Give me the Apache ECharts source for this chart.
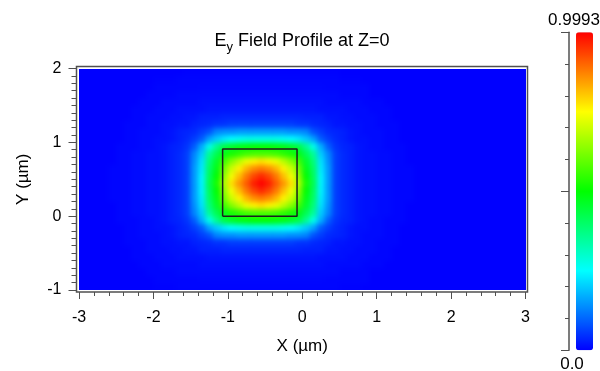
<!DOCTYPE html>
<html>
<head>
<meta charset="utf-8">
<script src="https://cdn.jsdelivr.net/npm/echarts@6/dist/echarts.min.js"></script>
<style>
html,body{margin:0;padding:0;background:#ffffff;}
#wrap{position:relative;width:600px;height:371px;}
#clip{position:absolute;left:79px;top:68.5px;width:446.5px;height:221.5px;overflow:hidden;background:#0000ff;}
#heat{position:absolute;left:0;top:0;width:446.5px;height:221.5px;filter:blur(2.5px);}
#c{position:absolute;left:0;top:0;width:600px;height:371px;}
</style>
</head>
<body>
<div id="wrap">
  <div id="clip"><div id="heat"></div></div>
  <div id="c"></div>
</div>
<script>
// ---- data ----
const xCats = [-2.95,-2.85,-2.75,-2.65,-2.55,-2.45,-2.35,-2.25,-2.15,-2.05,-1.95,-1.85,-1.75,-1.65,-1.55,-1.45,-1.35,-1.25,-1.15,-1.05,-0.95,-0.85,-0.75,-0.65,-0.55,-0.45,-0.35,-0.25,-0.15,-0.05,0.05,0.15,0.25,0.35,0.45,0.55,0.65,0.75,0.85,0.95,1.05,1.15,1.25,1.35,1.45,1.55,1.65,1.75,1.85,1.95,2.05,2.15,2.25,2.35,2.45,2.55,2.65,2.75,2.85,2.95];
const yCats = [-0.95,-0.85,-0.75,-0.65,-0.55,-0.45,-0.35,-0.25,-0.15,-0.05,0.05,0.15,0.25,0.35,0.45,0.55,0.65,0.75,0.85,0.95,1.05,1.15,1.25,1.35,1.45,1.55,1.65,1.75,1.85,1.95];
// |Ey| x100, rows from top (y = 1.95) to bottom (y = -0.95), columns x = -2.95 .. 2.95
const fieldRows = [
"0 0 0 0 0  0 0 0 0 0  0 0 0 0  0.2 0.2 0.2 0.2 0.2  0.2 0.2 0.2 0.2 0.2  0.2 0.2 0.2 0.2 0.2  0.2 0.2 0.2 0.2 0.2  0.2  0 0 0 0 0  0 0 0 0 0  0 0 0 0 0  0 0 0 0 0  0 0 0 0 0",
"0 0 0 0 0  0 0 0 0 0  0.2 0.2 0.2  0.5 0.5 0.5 0.5 0.5  0.5 0.5 0.5 0.5 0.5  0.5 0.5 0.5 0.5 0.5  0.5 0.5 0.5 0.5 0.5  0.5 0.5  0.2 0.2 0.2  0 0 0 0 0  0 0 0 0 0  0 0 0 0 0  0 0 0 0 0  0 0",
"0 0 0 0 0  0 0 0 0 0  0.5 0.5 0.5 0.5 0.5 0.5  0.7 0.7 0.7 0.7 0.7  0.7 0.7 0.7 0.7 0.7  0.7 0.7 0.7 0.7 0.7  0.7 0.7  0.5 0.5 0.5 0.5 0.5 0.5  0 0 0 0 0  0 0 0 0 0  0 0 0 0 0  0 0 0 0 0  0",
"0 0 0 0 0  0 0 0 0  0.5 0.5 0.5 0.5  1 1 1 1 1  1 1 1 1 1  1 1 1 1 1  1 1 1 1 1  1 1  0.5 0.5 0.5 0.5  0 0 0 0 0  0 0 0 0 0  0 0 0 0 0  0 0 0 0 0  0",
"0 0 0 0 0  0 0 0  0.5 0.5 0.5  1 1 1 1 1  1.5 1.5 1.5 1.5 1.5  1.5 1.5 1.5 1.5 1.5  1.5 1.5 1.5 1.5 1.5  1.5 1.5  1 1 1 1 1  0.5 0.5 0.5  0 0 0 0 0  0 0 0 0 0  0 0 0 0 0  0 0 0 0",
"0 0 0 0 0  0 0  0.5 0.5 0.5  1 1 1  1.5 1.5 1.5 1.5  2 2 2 2 2  2 2 2 2 2  2 2 2 2 2  1.5 1.5 1.5 1.5  1 1 1  0.5 0.5 0.5  0 0 0 0 0  0 0 0 0 0  0 0 0 0 0  0 0 0",
"0 0 0 0 0  0 0  0.5 0.5  1 1 1  1.5 1.5  2 2  3 3 3  3.5 3.5 3.5 3.5 3.5  3.5 3.5 3.5 3.5 3.5  3.5  3 3 3  2 2  1.5 1.5  1 1 1  0.5 0.5  0 0 0 0 0  0 0 0 0 0  0 0 0 0 0  0 0 0",
"0 0 0 0 0 0  0.5 0.5 0.5  1 1  1.5 1.5  2 2  3 3.5 4  5 5  6 6 6 6 6  6 6 6 6  5 5  4 3.5 3  2 2  1.5 1.5  1 1  0.5 0.5 0.5  0 0 0 0 0  0 0 0 0 0  0 0 0 0 0  0 0",
"0 0 0 0 0 0  0.5 0.5  1 1 1  1.5 2 3 3.5 4 6 8  13 14 14 15 15 15  15  15 15 15 14 14 13  8 6 4 3.5 3 2 1.5  1 1 1  0.5 0.5  0 0 0 0 0  0 0 0 0 0  0 0 0 0 0  0 0",
"0 0 0 0 0 0  0.5 0.5  1 1  1.5 1.5  2 3 4 6 9  16 20 23 25 26 27 27  27  27 27 26 25 23 20 16  9 6 4 3 2  1.5 1.5  1 1  0.5 0.5  0 0 0 0 0  0 0 0 0 0  0 0 0 0 0  0 0",
"0 0 0 0 0  0.5 0.5 0.5  1 1  1.5 2 3 3.5 5 9  17 27 36 43 46 48 49 50  50  50 49 48 46 43 36 27 17  9 5 3.5 3 2 1.5  1 1  0.5 0.5 0.5  0 0 0 0 0  0 0 0 0 0  0 0 0 0 0  0",
"0 0 0 0 0  0.5 0.5  1 1  1.5 1.5  2 3 4 6 13  20 35 42 48 52 54 56 57  57  57 56 54 52 48 42 35 20  13 6 4 3 2  1.5 1.5  1 1  0.5 0.5  0 0 0 0 0  0 0 0 0 0  0 0 0 0 0  0",
"0 0 0 0 0  0.5 0.5  1 1  1.5 1.5  2 3 4 6 14  22 38 46 56 63 68 73 76  78  76 73 68 63 56 46 38 22  14 6 4 3 2  1.5 1.5  1 1  0.5 0.5  0 0 0 0 0  0 0 0 0 0  0 0 0 0 0  0",
"0 0 0 0  0.5 0.5 0.5  1 1  1.5 1.5  2 3 4 6 15  23 40 48 61 70 76 82 86  88  86 82 76 70 61 48 40 23  15 6 4 3 2  1.5 1.5  1 1  0.5 0.5 0.5  0 0 0 0 0  0 0 0 0 0  0 0 0 0 0",
"0 0 0 0  0.5 0.5 0.5  1 1  1.5 1.5  2 3 4 6 15  24 41 50 64 74 81 88 93  96  93 88 81 74 64 50 41 24  15 6 4 3 2  1.5 1.5  1 1  0.5 0.5 0.5  0 0 0 0 0  0 0 0 0 0  0 0 0 0 0",
"0 0 0 0  0.5 0.5 0.5  1 1  1.5 1.5  2 3 4 6 15  24 42 52 67 78 85 91 97  99.93  97 91 85 78 67 52 42 24  15 6 4 3 2  1.5 1.5  1 1  0.5 0.5 0.5  0 0 0 0 0  0 0 0 0 0  0 0 0 0 0",
"0 0 0 0  0.5 0.5 0.5  1 1  1.5 1.5  2 3 4 6 15  24 41 50 64 74 81 88 93  96  93 88 81 74 64 50 41 24  15 6 4 3 2  1.5 1.5  1 1  0.5 0.5 0.5  0 0 0 0 0  0 0 0 0 0  0 0 0 0 0",
"0 0 0 0  0.5 0.5 0.5  1 1  1.5 1.5  2 3 4 6 15  23 40 48 61 70 76 82 86  88  86 82 76 70 61 48 40 23  15 6 4 3 2  1.5 1.5  1 1  0.5 0.5 0.5  0 0 0 0 0  0 0 0 0 0  0 0 0 0 0",
"0 0 0 0 0  0.5 0.5  1 1  1.5 1.5  2 3 4 6 14  22 38 46 56 63 68 73 76  78  76 73 68 63 56 46 38 22  14 6 4 3 2  1.5 1.5  1 1  0.5 0.5  0 0 0 0 0  0 0 0 0 0  0 0 0 0 0  0",
"0 0 0 0 0  0.5 0.5  1 1  1.5 1.5  2 3 4 6 13  20 35 42 48 52 54 56 57  57  57 56 54 52 48 42 35 20  13 6 4 3 2  1.5 1.5  1 1  0.5 0.5  0 0 0 0 0  0 0 0 0 0  0 0 0 0 0  0",
"0 0 0 0 0  0.5 0.5 0.5  1 1  1.5 2 3 3.5 5 9  17 27 36 43 46 48 49 50  50  50 49 48 46 43 36 27 17  9 5 3.5 3 2 1.5  1 1  0.5 0.5 0.5  0 0 0 0 0  0 0 0 0 0  0 0 0 0 0  0",
"0 0 0 0 0 0  0.5 0.5  1 1  1.5 1.5  2 3 4 6 9  16 20 23 25 26 27 27  27  27 27 26 25 23 20 16  9 6 4 3 2  1.5 1.5  1 1  0.5 0.5  0 0 0 0 0  0 0 0 0 0  0 0 0 0 0  0 0",
"0 0 0 0 0 0  0.5 0.5  1 1 1  1.5 2 3 3.5 4 6 8  13 14 14 15 15 15  15  15 15 15 14 14 13  8 6 4 3.5 3 2 1.5  1 1 1  0.5 0.5  0 0 0 0 0  0 0 0 0 0  0 0 0 0 0  0 0",
"0 0 0 0 0 0  0.5 0.5 0.5  1 1  1.5 1.5  2 2  3 3.5 4  5 5  6 6 6 6 6  6 6 6 6  5 5  4 3.5 3  2 2  1.5 1.5  1 1  0.5 0.5 0.5  0 0 0 0 0  0 0 0 0 0  0 0 0 0 0  0 0",
"0 0 0 0 0  0 0  0.5 0.5  1 1 1  1.5 1.5  2 2  3 3 3  3.5 3.5 3.5 3.5 3.5  3.5 3.5 3.5 3.5 3.5  3.5  3 3 3  2 2  1.5 1.5  1 1 1  0.5 0.5  0 0 0 0 0  0 0 0 0 0  0 0 0 0 0  0 0 0",
"0 0 0 0 0  0 0  0.5 0.5 0.5  1 1 1  1.5 1.5 1.5 1.5  2 2 2 2 2  2 2 2 2 2  2 2 2 2 2  1.5 1.5 1.5 1.5  1 1 1  0.5 0.5 0.5  0 0 0 0 0  0 0 0 0 0  0 0 0 0 0  0 0 0",
"0 0 0 0 0  0 0 0  0.5 0.5 0.5  1 1 1 1 1  1.5 1.5 1.5 1.5 1.5  1.5 1.5 1.5 1.5 1.5  1.5 1.5 1.5 1.5 1.5  1.5 1.5  1 1 1 1 1  0.5 0.5 0.5  0 0 0 0 0  0 0 0 0 0  0 0 0 0 0  0 0 0 0",
"0 0 0 0 0  0 0 0 0  0.5 0.5 0.5 0.5  1 1 1 1 1  1 1 1 1 1  1 1 1 1 1  1 1 1 1 1  1 1  0.5 0.5 0.5 0.5  0 0 0 0 0  0 0 0 0 0  0 0 0 0 0  0 0 0 0 0  0",
"0 0 0 0 0  0 0 0 0 0  0.5 0.5 0.5 0.5 0.5 0.5  0.7 0.7 0.7 0.7 0.7  0.7 0.7 0.7 0.7 0.7  0.7 0.7 0.7 0.7 0.7  0.7 0.7  0.5 0.5 0.5 0.5 0.5 0.5  0 0 0 0 0  0 0 0 0 0  0 0 0 0 0  0 0 0 0 0  0",
"0 0 0 0 0  0 0 0 0 0  0.2 0.2 0.2  0.5 0.5 0.5 0.5 0.5  0.5 0.5 0.5 0.5 0.5  0.5 0.5 0.5 0.5 0.5  0.5 0.5 0.5 0.5 0.5  0.5 0.5  0.2 0.2 0.2  0 0 0 0 0  0 0 0 0 0  0 0 0 0 0  0 0 0 0 0  0 0"
];
const waveguideX = [-1.07, -1.07, -0.07, -0.07, -1.07];
const waveguideY = [0, 0.91, 0.91, 0, 0];
const colorbarMin = 0;
const colorbarMax = 0.9993;
const colorbarLabels = ['0.9993', '0.0'];
const jetColors = ['#0000ff', '#00ffff', '#00ff00', '#ffff00', '#ff0000'];

// ---- build series data ----
const heatData = [];
fieldRows.forEach((row, r) => {
  const vals = row.trim().split(/\s+/).map(Number);
  if (vals.length !== xCats.length) throw new Error('row ' + r + ' has ' + vals.length + ' values');
  const yi = yCats.length - 1 - r;
  vals.forEach((v, xi) => heatData.push([xi, yi, v / 100]));
});
if (fieldRows.length !== yCats.length) throw new Error('rows: ' + fieldRows.length);
const outline = waveguideX.map((x, i) => [x, waveguideY[i]]);

const FONT = 'Liberation Sans, Arial, sans-serif';
const frameColor = '#505050';

// ---- field map (drawn underneath, lightly smoothed) ----
const heat = echarts.init(document.getElementById('heat'), null, {renderer: 'canvas'});
heat.setOption({
  animation: false,
  grid: {left: 0, right: 0, top: 0, bottom: 0},
  xAxis: {type: 'category', data: xCats, show: false},
  yAxis: {type: 'category', data: yCats, show: false},
  visualMap: {type: 'continuous', show: false, min: colorbarMin, max: colorbarMax, inRange: {color: jetColors}},
  series: [{type: 'heatmap', data: heatData, progressive: 0, itemStyle: {borderWidth: 0}, emphasis: {disabled: true}}]
});

// ---- axes, frame, outline, colour bar ----
const chart = echarts.init(document.getElementById('c'), null, {renderer: 'canvas'});
chart.setOption({
  animation: false,
  backgroundColor: 'transparent',
  textStyle: {fontFamily: FONT},
  grid: [
    {left: 79, right: 74.5, top: 68.5, bottom: 81},
    {left: 76.5, right: 72.5, top: 66.5, bottom: 79, show: true, borderColor: frameColor, borderWidth: 1.5, backgroundColor: 'transparent'},
    {left: 569, top: 32.3, width: 1, height: 318}
  ],
  xAxis: [
    {type: 'value', gridIndex: 0, min: -3, max: 3, interval: 1, position: 'bottom', offset: 2,
     axisLine: {show: false, onZero: false},
     axisTick: {show: true, length: 7, lineStyle: {color: frameColor, width: 1}},
     minorTick: {show: true, splitNumber: 5, length: 4, lineStyle: {color: frameColor, width: 1}},
     splitLine: {show: false},
     axisLabel: {color: '#000', fontSize: 16, margin: 18, fontFamily: FONT},
     name: 'X (µm)', nameLocation: 'middle', nameGap: 46,
     nameTextStyle: {color: '#000', fontSize: 17, fontFamily: FONT}},
    {type: 'value', gridIndex: 1, show: false, min: 0, max: 1},
    {type: 'value', gridIndex: 2, show: false, min: 0, max: 1}
  ],
  yAxis: [
    {type: 'value', gridIndex: 0, min: -1, max: 2, interval: 1, position: 'left', offset: 2.5,
     axisLine: {show: false, onZero: false},
     axisTick: {show: true, length: 8, lineStyle: {color: frameColor, width: 1}},
     minorTick: {show: true, splitNumber: 10, length: 5, lineStyle: {color: frameColor, width: 1}},
     splitLine: {show: false},
     axisLabel: {color: '#000', fontSize: 16, margin: 15, fontFamily: FONT},
     name: 'Y (µm)', nameLocation: 'middle', nameGap: 45, nameRotate: 90,
     nameTextStyle: {color: '#000', fontSize: 17, fontFamily: FONT}},
    {type: 'value', gridIndex: 1, show: false, min: 0, max: 1},
    {type: 'value', gridIndex: 2, min: 0, max: 1, interval: 0.5, position: 'left',
     axisLine: {show: true, onZero: false, lineStyle: {color: frameColor, width: 1.5}},
     axisTick: {show: true, length: 8, lineStyle: {color: frameColor, width: 1}},
     minorTick: {show: true, splitNumber: 5, length: 4, lineStyle: {color: frameColor, width: 1}},
     splitLine: {show: false}, minorSplitLine: {show: false},
     axisLabel: {show: false}}
  ],
  visualMap: {
    type: 'continuous', seriesIndex: [], min: colorbarMin, max: colorbarMax,
    calculable: false, orient: 'vertical', left: 576, top: 32.3, padding: 0,
    itemWidth: 17, itemHeight: 318, text: null, showLabel: false,
    inRange: {color: jetColors}
  },
  graphic: [
    {type: 'text', x: 302, y: 41, z: 10,
     style: {text: '{e|E}{s|y}{e| Field Profile at Z=0}', align: 'center', verticalAlign: 'middle',
       rich: {e: {fontSize: 18, fontFamily: FONT, fill: '#000'}, s: {fontSize: 13, fontFamily: FONT, fill: '#000', padding: [12, 0, 0, 0]}}}},
    {type: 'text', x: 574, y: 20, z: 10,
     style: {text: colorbarLabels[0], align: 'center', verticalAlign: 'middle', fontSize: 17, fontFamily: FONT, fill: '#000'}},
    {type: 'text', x: 572, y: 364, z: 10,
     style: {text: colorbarLabels[1], align: 'center', verticalAlign: 'middle', fontSize: 17, fontFamily: FONT, fill: '#000'}}
  ],
  series: [
    {type: 'line', xAxisIndex: 0, yAxisIndex: 0, data: outline, symbol: 'none', z: 5,
     lineStyle: {color: '#1e1e1e', width: 1.5}, silent: true}
  ]
});
</script>
</body>
</html>
